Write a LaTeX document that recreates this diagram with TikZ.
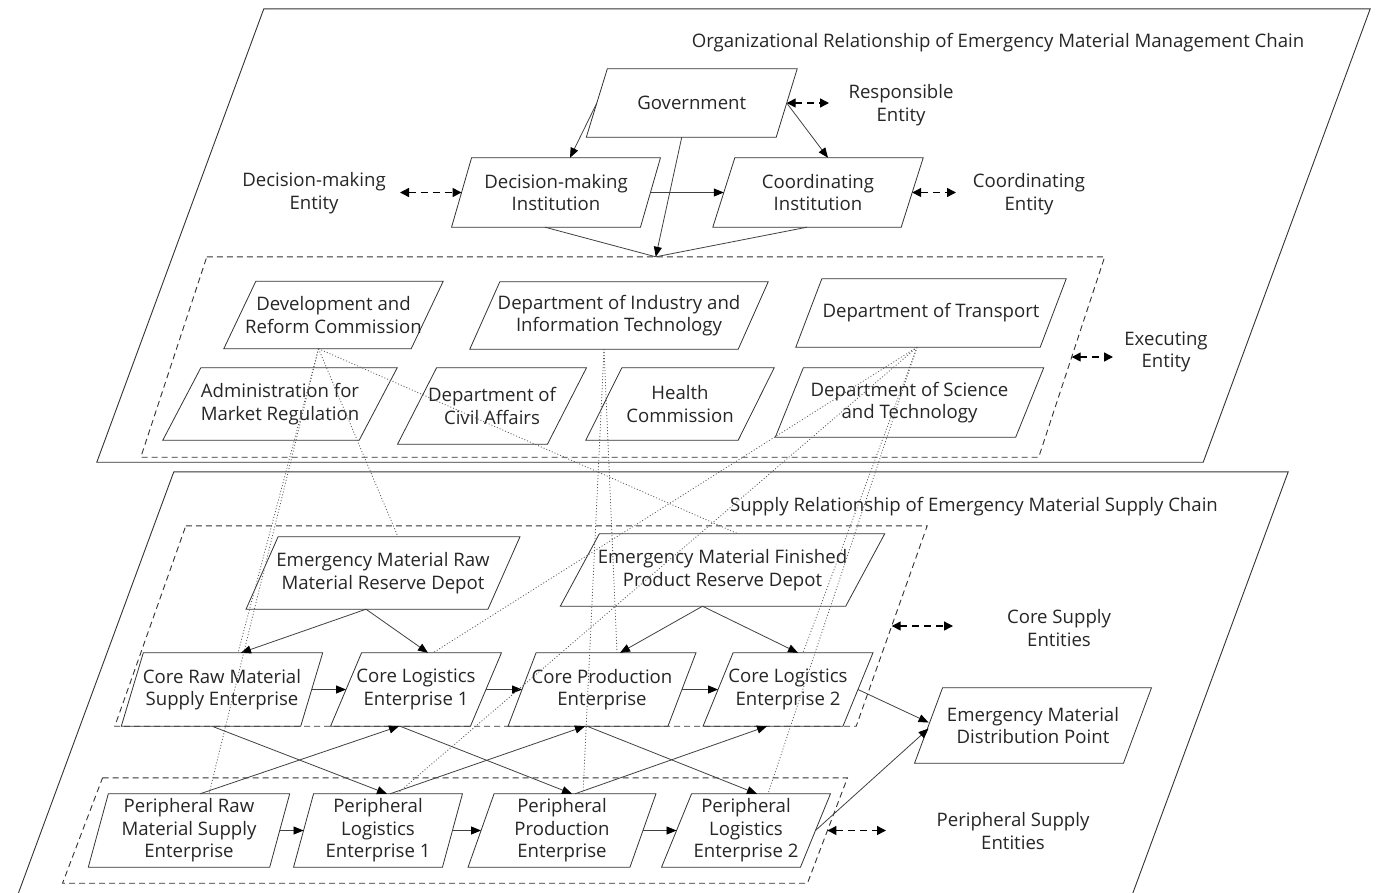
\documentclass[tikz,border=0pt]{standalone}
\usepackage{fontspec}
\setmainfont{Open Sans}
\usetikzlibrary{arrows.meta}

\tikzset{
 boxline/.style={draw=black!80, line width=0.8pt},
 dashbox/.style={draw=black!80, line width=0.9pt, dash pattern=on 6pt off 4pt},
 panel/.style={draw=black!80, line width=0.9pt},
 boxtext/.style={inner sep=0pt, align=center, text=black!85, font=\fontsize{18.6}{22.5}\selectfont},
 lbl/.style={align=center, text=black!85, inner sep=0pt, font=\fontsize{18.6}{22.5}\selectfont},
 flow/.style={draw=black!75, line width=0.8pt, -{Triangle[length=10pt,width=8pt,color=black]}},
 plain/.style={draw=black!75, line width=0.8pt},
 link/.style={draw=black!65, line width=0.8pt, dash pattern=on 1pt off 2pt},
 entarrow/.style={draw=black, line width=1.4pt, dash pattern=on 7pt off 5pt, {Triangle[length=9pt,width=9pt]}-{Triangle[length=9pt,width=9pt]}},
}

% [style]{name}{cx}{cy}{mid width}{height}{half slant}{text}
\newcommand\mkpara[8][boxline]{%
 \node[boxtext, minimum width=#5pt, minimum height=#6pt] (#2) at (#3,#4) {#8};
 \draw[#1] ([xshift=#7pt]#2.north west) -- ([xshift=#7pt]#2.north east) -- ([xshift=-#7pt]#2.south east) -- ([xshift=-#7pt]#2.south west) -- cycle;
}

\begin{document}
\begin{tikzpicture}[x=1pt,y=-1pt]
\clip (0,0) rectangle (1378,892);

% ---------- top panel ----------
\mkpara[panel]{orgpanel}{733.5}{235.5}{1106}{453}{83.5}{}
\node[lbl] (ttl1) at (998,43) {Organizational Relationship of Emergency Material Management Chain};

\mkpara{gov}{691.75}{103}{189.5}{68}{10.5}{Government}
\mkpara{dmi}{556}{192.5}{188.5}{69}{10}{Decision-making\\Institution}
\mkpara{coi}{818}{192.5}{188}{69}{11}{Coordinating\\Institution}
\mkpara[dashbox]{exe}{622.75}{357}{897.5}{200}{33}{}
\mkpara{drc}{333.5}{315}{187}{67}{16}{Development and\\Reform Commission}
\mkpara{diit}{619}{315.5}{268}{67}{15}{Department of Industry and\\Information Technology}
\mkpara{dt}{931}{313}{244}{68}{13}{Department of Transport}
\mkpara{amr}{280}{404}{196}{72}{19}{Administration for\\Market Regulation}
\mkpara{dca}{492}{406}{149.5}{76}{19.5}{Department of\\Civil Affairs}
\mkpara{hc}{680}{404}{152}{72}{18}{Health\\Commission}
\mkpara{dst}{909.5}{402.5}{240}{69}{14}{Department of Science\\and Technology}

\node[lbl] (resp) at (901,105) {Responsible\\Entity};
\node[lbl] (dme) at (314,193) {Decision-making\\Entity};
\node[lbl] (coe) at (1029,194) {Coordinating\\Entity};
\node[lbl] (exl) at (1166,352) {Executing\\Entity};

\coordinate (resp-a) at (829,103);
\coordinate (dme-a) at (400,192.5);
\coordinate (coe-a) at (956,192.5);
\coordinate (exl-a) at (1113,357);
\draw[entarrow] (gov.east) -- (resp-a);
\draw[entarrow] (dme-a) -- (dmi.west);
\draw[entarrow] (coi.east) -- (coe-a);
\draw[entarrow] (exe.east) -- (exl-a);

\draw[flow] (gov.west) -- ([xshift=14pt]dmi.north);
\draw[flow] (gov.east) -- ([xshift=10pt]coi.north);
\coordinate (conv) at ([xshift=33pt]exe.north);
\draw[plain] ([xshift=-11pt]dmi.south) -- (conv);
\draw[plain] ([xshift=-11pt]coi.south) -- (conv);
\draw[flow] ([xshift=-10pt]gov.south) -- (conv);
\draw[flow] (dmi.east) -- (coi.west);

% ---------- bottom panel ----------
\mkpara[panel]{suppanel}{652}{686}{1114}{428}{79}{}
\node[lbl] (ttl2) at (974,507) {Supply Relationship of Emergency Material Supply Chain};

\mkpara[dashbox]{core}{521}{626}{741}{200}{35.5}{}
\mkpara{rawd}{383}{573}{241.5}{72}{16}{Emergency Material Raw\\Material Reserve Depot}
\mkpara{find}{722.5}{570}{285}{72}{19.5}{Emergency Material Finished\\Product Reserve Depot}
\mkpara{cr}{222}{689.5}{179}{73}{11}{Core Raw Material\\Supply Enterprise}
\mkpara{cl1}{416}{689.5}{139.5}{73}{15.5}{Core Logistics\\Enterprise 1}
\mkpara{cp}{602}{689.5}{159.5}{73}{14}{Core Production\\Enterprise}
\mkpara{cl2}{788}{689.5}{139.5}{73}{15}{Core Logistics\\Enterprise 2}
\mkpara{dp}{1033}{725.5}{208.5}{75}{14}{Emergency Material\\Distribution Point}
\mkpara[dashbox]{per}{455}{830.5}{744.5}{105}{20}{}
\mkpara{pr}{189}{830.5}{181}{73}{10}{Peripheral Raw\\Material Supply\\Enterprise}
\mkpara{pl1}{378}{830.5}{148.5}{73}{10}{Peripheral\\Logistics\\Enterprise 1}
\mkpara{pp}{562}{830.5}{161.5}{73}{13}{Peripheral\\Production\\Enterprise}
\mkpara{pl2}{746}{830.5}{138.5}{73}{15}{Peripheral\\Logistics\\Enterprise 2}

\node[lbl] (cse) at (1059,628) {Core Supply\\Entities};
\node[lbl] (pse) at (1013,831) {Peripheral Supply\\Entities};
\coordinate (cse-a) at (953,626);
\coordinate (pse-a) at (886,830.5);
\draw[entarrow] (core.east) -- (cse-a);
\draw[entarrow] (per.east) -- (pse-a);

\draw[flow] ([xshift=-17pt]rawd.south) -- ([xshift=19pt]cr.north);
\draw[flow] ([xshift=-17pt]rawd.south) -- ([xshift=12pt]cl1.north);
\draw[flow] ([xshift=-20pt]find.south) -- ([xshift=18pt]cp.north);
\draw[flow] ([xshift=-20pt]find.south) -- ([xshift=10pt]cl2.north);
\draw[flow] (cr.east) -- (cl1.west);
\draw[flow] (cl1.east) -- (cp.west);
\draw[flow] (cp.east) -- (cl2.west);
\draw[flow] (cl2.east) -- ([yshift=3pt]dp.west);
\draw[flow] (pl2.east) -- ([yshift=-3pt]dp.west);
\draw[flow] (pr.east) -- (pl1.west);
\draw[flow] (pl1.east) -- (pp.west);
\draw[flow] (pp.east) -- (pl2.west);
\draw[flow] ([xshift=-10pt]cr.south) -- ([xshift=9pt]pl1.north);
\draw[flow] ([xshift=11pt]pr.north) -- ([xshift=-17pt]cl1.south);
\draw[flow] ([xshift=-16pt]cl1.south) -- ([xshift=10pt]pp.north);
\draw[flow] ([xshift=12pt]pl1.north) -- ([xshift=-17pt]cp.south);
\draw[flow] ([xshift=-15pt]cp.south) -- ([xshift=11pt]pl2.north);
\draw[flow] ([xshift=13pt]pp.north) -- ([xshift=-21pt]cl2.south);

% ---------- dotted links ----------
\coordinate (drc-o) at ([xshift=-15pt]drc.south);
\coordinate (diit-o) at ([xshift=-15pt]diit.south);
\coordinate (dt-o) at ([xshift=-14pt]dt.south);
\draw[link] (drc-o) -- ([xshift=16pt]cr.north);
\draw[link] (drc-o) -- ([xshift=20pt]pr.north);
\draw[link] (drc-o) -- ([xshift=15pt]rawd.north);
\draw[link] (drc-o) -- ([xshift=15.5pt]find.north);
\draw[link] (diit-o) -- ([xshift=15pt]cp.north);
\draw[link] (diit-o) -- ([xshift=21pt]pp.north);
\draw[link] (dt-o) -- ([xshift=17pt]cl1.north);
\draw[link] (dt-o) -- ([xshift=19pt]pl1.north);
\draw[link] (dt-o) -- ([xshift=15pt]cl2.north);
\draw[link] (dt-o) -- ([xshift=22pt]pl2.north);
\end{tikzpicture}
\end{document}
